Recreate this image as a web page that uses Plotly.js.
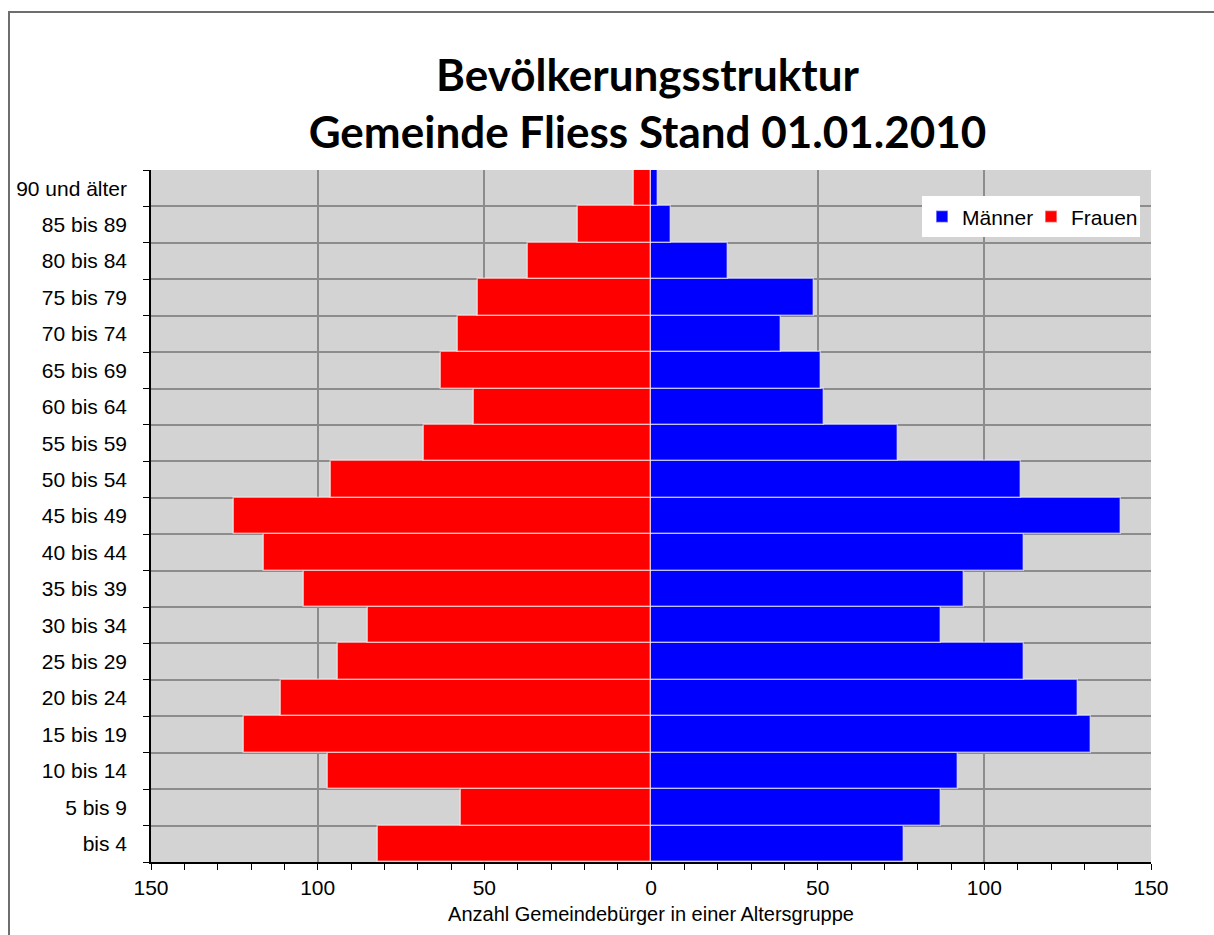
<!DOCTYPE html>
<html>
<head>
<meta charset="utf-8">
<script src="https://cdn.plot.ly/plotly-3.0.1.min.js"></script>
<style>
  body { margin: 0; padding: 0; background: #ffffff; }
  #wrap { position: relative; width: 1214px; height: 935px; overflow: hidden; }
  #frame { position: absolute; left: 8px; top: 11px; width: 1300px; height: 1000px;
           border-left: 2px solid #6e6e6e; border-top: 2px solid #6e6e6e; pointer-events: none; }
  #chart { position: absolute; left: 0; top: 0; width: 1214px; height: 935px; }
</style>
</head>
<body>
<div id="wrap">
  <div id="chart"></div>
  <div id="frame"></div>
</div>
<script>
// Age groups, bottom to top
const ageGroups = ["bis 4", "5 bis 9", "10 bis 14", "15 bis 19", "20 bis 24", "25 bis 29",
  "30 bis 34", "35 bis 39", "40 bis 44", "45 bis 49", "50 bis 54", "55 bis 59",
  "60 bis 64", "65 bis 69", "70 bis 74", "75 bis 79", "80 bis 84", "85 bis 89", "90 und älter"];

const maenner = [76, 87, 92, 132, 128, 112, 87, 94, 112, 141, 111, 74, 52, 51, 39, 49, 23, 6, 2];
const frauen  = [82, 57, 97, 122, 111, 94, 85, 104, 116, 125, 96, 68, 53, 63, 58, 52, 37, 22, 5];

const xTickVals = [-150, -100, -50, 0, 50, 100, 150];
const xTickText = ["150", "100", "50", "0", "50", "100", "150"];

const barLine = { color: "rgba(255,255,255,0.55)", width: 1.5 };

const traces = [
  {
    type: "bar", orientation: "h", name: "Männer",
    y: ageGroups, x: maenner,
    marker: { color: "#0000ff", line: barLine },
    hovertemplate: "%{y}: %{x}<extra>Männer</extra>"
  },
  {
    type: "bar", orientation: "h", name: "Frauen",
    y: ageGroups, x: frauen.map(v => -v), customdata: frauen,
    marker: { color: "#ff0000", line: barLine },
    hovertemplate: "%{y}: %{customdata}<extra>Frauen</extra>"
  }
];

const layout = {
  width: 1214, height: 935,
  margin: { l: 151, r: 63, t: 170, b: 73, autoexpand: false },
  paper_bgcolor: "rgba(0,0,0,0)",
  plot_bgcolor: "#d3d3d3",
  barmode: "relative",
  bargap: 0,
  showlegend: true,
  title: {
    text: "<b>Bevölkerungsstruktur</b><br><b>Gemeinde Fliess Stand 01.01.2010</b>",
    font: { family: "Lato, 'Open Sans', sans-serif", size: 44, color: "#000000" },
    x: 0.4965, xanchor: "center", xref: "paper",
    y: 0.903, yanchor: "middle", yref: "container",
    automargin: false
  },
  font: { family: "'Liberation Sans', Arial, sans-serif", size: 21, color: "#000000" },
  xaxis: {
    range: [-150, 150],
    tickvals: xTickVals, ticktext: xTickText,
    ticks: "outside", ticklen: 6, tickwidth: 1, tickcolor: "#000000",
    minor: { dtick: 10, tick0: 0, ticks: "outside", ticklen: 6, tickcolor: "#000000", showgrid: false },
    showgrid: true, gridcolor: "#8c8c8c", gridwidth: 2,
    zeroline: false,
    showline: true, linecolor: "#000000", linewidth: 1.5,
    tickfont: { size: 21 },
    title: { text: "Anzahl Gemeindebürger in einer Altersgruppe", font: { size: 20 }, standoff: 9 },
    fixedrange: true
  },
  yaxis: {
    type: "category",
    categoryorder: "array", categoryarray: ageGroups,
    tickson: "boundaries",
    ticks: "outside", ticklen: 6, tickwidth: 1, tickcolor: "#000000",
    ticklabelstandoff: 18,
    showgrid: true, gridcolor: "#8c8c8c", gridwidth: 2,
    showline: true, linecolor: "#000000", linewidth: 1.5,
    tickfont: { size: 21 },
    fixedrange: true
  },
  legend: {
    orientation: "h",
    x: 0.771, xanchor: "left", xref: "paper",
    y: 0.962, yanchor: "top", yref: "paper",
    bgcolor: "#ffffff",
    font: { size: 21 },
    traceorder: "normal",
    itemwidth: 30,
    entrywidth: 64, entrywidthmode: "pixels",
    tracegroupgap: 0
  }
};

Plotly.newPlot("chart", traces, layout, { displayModeBar: false });
</script>
</body>
</html>
